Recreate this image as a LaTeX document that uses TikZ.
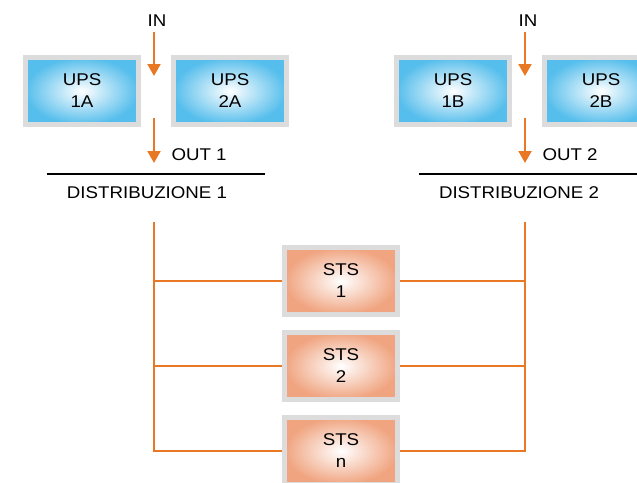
\documentclass[tikz,border=0pt]{standalone}
\usepackage{fontspec}
\setmainfont[FakeStretch=1.1]{Liberation Sans}
\usepackage{tikz}
\usetikzlibrary{arrows.meta}

\definecolor{upsblue}{RGB}{86,190,236}
\definecolor{stssalmon}{RGB}{240,164,128}
\definecolor{boxgray}{RGB}{220,220,220}
\definecolor{lineorange}{RGB}{232,120,36}

\tikzset{
    upsbox/.style={draw=boxgray, line width=5.5pt, inner color=white, outer color=upsblue,
        minimum width=113pt, minimum height=67pt, align=center},
    stsbox/.style={draw=boxgray, line width=5.5pt, inner color=white, outer color=stssalmon,
        minimum width=113pt, minimum height=67pt, align=center},
    flow/.style={lineorange, line width=2pt, -{Triangle[width=13pt,length=12pt]}},
    bus/.style={lineorange, line width=1.8pt},
}

\begin{document}
\begin{tikzpicture}[x=1pt, y=-1pt, font=\fontsize{17}{22}\selectfont]

    \path[use as bounding box] (0,0) rectangle (637,482);
    \clip (0,0) rectangle (637,482);

    % UPS group A
    \node (in1) at (157,21) {IN};
    \node[upsbox] (ups1a) at (82,91) {UPS\\1A};
    \node[upsbox] (ups2a) at (230,91) {UPS\\2A};
    \coordinate (gap1) at (154,76);
    \coordinate (top1) at (154,118);
    \coordinate (out1tip) at (154,163);
    \node[anchor=west] (out1) at (168,155) {OUT 1};
    \draw[flow] (154,32) -- (gap1);
    \draw[flow] (top1) -- (out1tip);

    % UPS group B
    \node (in2) at (528,21) {IN};
    \node[upsbox] (ups1b) at (453,91) {UPS\\1B};
    \node[upsbox] (ups2b) at (601,91) {UPS\\2B};
    \coordinate (gap2) at (525,76);
    \coordinate (top2) at (525,118);
    \coordinate (out2tip) at (525,163);
    \node[anchor=west] (out2) at (539,155) {OUT 2};
    \draw[flow] (525,32) -- (gap2);
    \draw[flow] (top2) -- (out2tip);

    % Distribution lines
    \coordinate (d1l) at (47,174);
    \coordinate (d1r) at (265,174);
    \coordinate (d2l) at (419,174);
    \coordinate (d2r) at (640,174);
    \draw[line width=1.3pt] (d1l) -- (d1r);
    \draw[line width=1.3pt] (d2l) -- (d2r);
    \node[anchor=base] (dist1) at (147,198) {DISTRIBUZIONE 1};
    \node[anchor=base] (dist2) at (519,198) {DISTRIBUZIONE 2};

    % STS units
    \node[stsbox] (sts1) at (341,281) {STS\\1};
    \node[stsbox] (sts2) at (341,366) {STS\\2};
    \node[stsbox] (stsn) at (341,451) {STS\\n};

    % Buses
    \coordinate (bus1top) at (154,222);
    \coordinate (bus1bot) at (154,451);
    \coordinate (bus2top) at (525,222);
    \coordinate (bus2bot) at (525,451);
    \draw[bus] (bus1top) -- (bus1bot) -- (stsn.west);
    \draw[bus] (bus2top) -- (bus2bot) -- (stsn.east);
    \draw[bus] (bus1top |- sts1.west) -- (sts1.west);
    \draw[bus] (bus1top |- sts2.west) -- (sts2.west);
    \draw[bus] (sts1.east) -- (bus2top |- sts1.east);
    \draw[bus] (sts2.east) -- (bus2top |- sts2.east);
\end{tikzpicture}
\end{document}
